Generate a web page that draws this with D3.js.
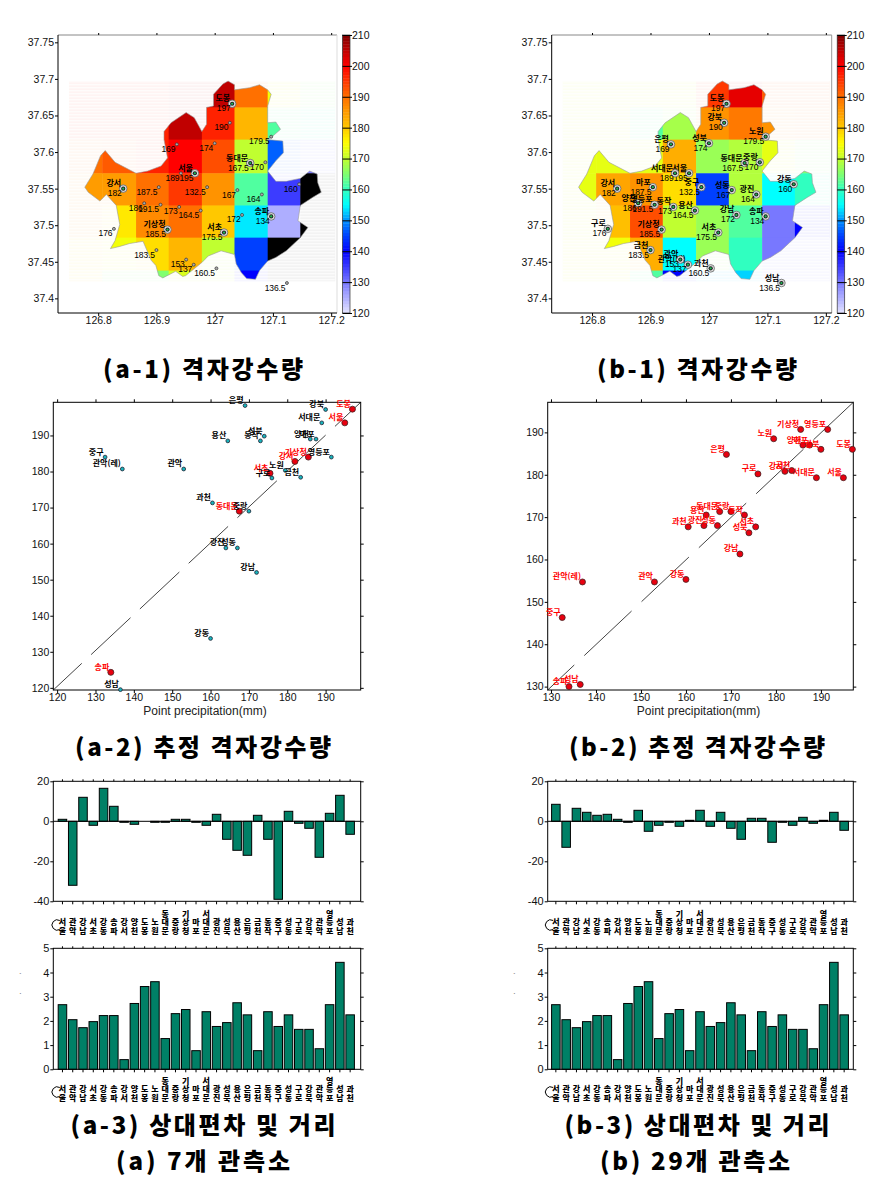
<!DOCTYPE html>
<html><head><meta charset="utf-8">
<script src="https://d3js.org/d3.v7.min.js"></script>
<style>html,body{margin:0;background:#fff}svg{display:block}</style>
</head><body><svg id="c" width="882" height="1187"></svg>
<script>
// ---------- data (bar order) ----------
const stationNames=["서울","관악(레)","강남","서초","강동","송파","강서","양천","도봉","노원","동대문","중랑","기상청","마포","서대문","광진","성북","용산","은평","금천","동작","중구","성동","구로","강북","관악","영등포","성남","과천"];
const pointPrecip=[195,137,172,175.5,160,134,182,186,197,179.5,167.5,170,185.5,187.5,189,164,174,164.5,169,183.5,173,132.5,167,176,190,153,191.5,136.5,160.5];
const estimatedA=[193.5,180.7,152,179.5,133.7,124.3,182.8,189,197.3,180.3,169,169,184,189,193.5,158.8,189.8,188.5,198.3,178.4,188.5,184,158.8,178.2,197.2,180.7,184,119.5,171.3];
const estimatedB=[179.3,154.7,161.3,167.7,155.3,130,180.8,187,186,188.5,171.3,171.3,190.7,187,179.3,168,166.3,170.5,184.8,181,170.5,146.3,168,180.2,186,154.7,190.7,130.5,167.7];
const deviationA=[1,-32,12,-2,16.5,7.5,-0.5,-1.5,0,-0.5,-0.5,1,1,-0.5,-2,3.5,-9,-14.5,-17,3,-9,-39,5,-1,-3.5,-18,4,13,-6.5];
const deviationB=[8.5,-13,6.5,4.5,3,3.5,1,-0.5,5.5,-5,-2,-0.5,-2.5,0.5,5.5,-2.5,4.5,-3.5,-9,1.5,1.5,-10.5,-0.5,-2,2,-1,0.5,4.5,-4.5];
const distances=[2.67,2.05,1.72,1.97,2.22,2.22,0.4,2.72,3.42,3.62,1.27,2.3,2.47,0.77,2.38,1.77,1.93,2.75,2.25,0.77,2.38,1.77,2.25,1.65,1.65,0.85,2.67,4.42,2.25];
const stationLon=[126.966,126.964,127.047,127.016,127.145,127.097,126.843,126.879,127.030,127.097,127.061,127.087,126.919,126.904,126.942,127.081,127.000,126.976,126.935,126.900,126.939,126.987,127.039,126.827,127.026,126.951,126.907,127.124,127.003];
const stationLat=[37.571,37.446,37.514,37.490,37.556,37.512,37.550,37.530,37.666,37.621,37.585,37.586,37.494,37.552,37.571,37.542,37.612,37.520,37.6105,37.466,37.525,37.552,37.548,37.495,37.640,37.453,37.528,37.421,37.441];
const selectedSeven=["서울","강서","기상청","서초","동대문","송파","도봉"];
const gridLon=[126.75,126.807,126.865,126.921,126.978,127.034,127.091,127.147,127.206];
const gridLat=[37.697,37.661,37.617,37.571,37.527,37.483,37.438,37.424];
const gridA=[[197,197,197,205,205,190,174,165],[197,197,197,205,197,182,162,160],[190,192,197,200,193,170,147,130],[185,185,190,195,186,162,135,110],[185,177,187,190,180,154,125,110],[178,174,178,182,170,145,110,110],[178,165,165,172,170,140,110,110]];
const gridB=[[172,172,172,172,195,202,192,192],[172,172,162,168,186,189,186,190],[173,173,173,183,167,169,173,165],[173,184,186,178,145,169,155,160],[173,181,193,170,167,162,130,140],[174,174,183,155,167,160,130,130],[174,174,162,140,153,153,130,130]];
const seoulOutline=[[126.998,37.679],[127.014,37.693],[127.023,37.697],[127.034,37.692],[127.034,37.685],[127.060,37.688],[127.077,37.692],[127.091,37.685],[127.097,37.679],[127.091,37.663],[127.091,37.640],[127.105,37.641],[127.113,37.631],[127.100,37.622],[127.091,37.617],[127.117,37.615],[127.118,37.599],[127.105,37.588],[127.091,37.574],[127.105,37.560],[127.123,37.560],[127.147,37.564],[127.163,37.574],[127.176,37.570],[127.177,37.558],[127.183,37.545],[127.168,37.538],[127.147,37.527],[127.143,37.506],[127.160,37.497],[127.147,37.483],[127.123,37.465],[127.105,37.456],[127.091,37.451],[127.077,37.438],[127.070,37.426],[127.055,37.427],[127.046,37.435],[127.037,37.447],[127.034,37.460],[127.011,37.465],[126.989,37.458],[126.978,37.449],[126.950,37.431],[126.945,37.430],[126.933,37.437],[126.911,37.428],[126.904,37.431],[126.899,37.445],[126.891,37.452],[126.877,37.478],[126.854,37.475],[126.837,37.471],[126.821,37.468],[126.829,37.479],[126.837,37.501],[126.831,37.527],[126.814,37.542],[126.803,37.533],[126.783,37.545],[126.777,37.552],[126.791,37.570],[126.804,37.595],[126.812,37.602],[126.829,37.586],[126.865,37.571],[126.885,37.574],[126.908,37.581],[126.919,37.592],[126.913,37.617],[126.913,37.628],[126.925,37.640],[126.951,37.654],[126.965,37.647],[126.978,37.628],[126.986,37.638],[126.986,37.661],[126.998,37.663]];
const colorStops=[120,130,140,145,150,155,160,165,170,175,180,190,200,210];
const colorValues=["#e4e4ff","#7878ff","#0000ff","#0040ff","#0090ff","#00ffff","#30ffc0","#80ff70","#c0ff30","#ffff00","#ffc800","#ff7000","#ff0000","#800000"];
const colorTicks=[120,130,140,150,160,170,180,190,200,210];
const lonTicks=[126.8,126.9,127,127.1,127.2];
const latTicks=[37.4,37.45,37.5,37.55,37.6,37.65,37.7,37.75];
const captionTexts=["(a-1) 격자강수량","(b-1) 격자강수량","(a-2) 추정 격자강수량","(b-2) 추정 격자강수량","(a-3) 상대편차 및 거리","(b-3) 상대편차 및 거리","(a) 7개 관측소","(b) 29개 관측소"];

// ---------- helpers ----------
const captionLayout=[[203,378,200],[697,378,200],[203,756,256],[697,756,256],[203,1134,265],[697,1134,265],[203,1170,174],[695,1170,190]];
const svg=d3.select("#c");
const SANS="'Liberation Sans',Arial,sans-serif", KR="'Noto Sans CJK KR',sans-serif";
const colorScale=d3.scaleLinear().domain(colorStops).range(colorValues).clamp(true);
const color=v=>v<120?"#000":colorScale(v);
const defs=svg.append("defs");
const stripes=defs.append("pattern").attr("id","stripes").attr("width",6).attr("height",3).attr("patternUnits","userSpaceOnUse");
stripes.append("rect").attr("width",6).attr("height",1.4).attr("fill","#fff").attr("fill-opacity",.7);

function styleAxis(g,fs){
  g.selectAll("text").attr("font-family",SANS).attr("font-size",fs).attr("fill","#111");
  g.selectAll("line").attr("stroke","#000");
  g.select(".domain").remove();
}

// ---------- maps ----------
function drawMap(id,left,right,grid,showAll){
  const x=d3.scaleLinear().domain([126.731,127.21]).range([left,right]);
  const y=d3.scaleLinear().domain([37.38,37.76]).range([313,35]);
  const g=svg.append("g");
  const path=d3.line().x(d=>x(d[0])).y(d=>y(d[1]));
  const clipId="clip"+id;
  defs.append("clipPath").attr("id",clipId).append("path").attr("d",path(seoulOutline)+"Z");
  const cells=[];
  grid.forEach((row,r)=>row.forEach((v,c)=>cells.push({r,c,v})));
  const drawCells=(sel)=>sel.selectAll("rect").data(cells).join("rect")
    .attr("x",d=>x(gridLon[d.c])).attr("y",d=>y(gridLat[d.r]))
    .attr("width",d=>x(gridLon[d.c+1])-x(gridLon[d.c])+.5)
    .attr("height",d=>y(gridLat[d.r+1])-y(gridLat[d.r])+.5)
    .attr("fill",d=>color(d.v));
  drawCells(g.append("g").attr("opacity",.045));
  g.append("rect").attr("x",x(gridLon[0])).attr("y",y(gridLat[0]))
    .attr("width",x(gridLon[8])-x(gridLon[0])).attr("height",y(gridLat[7])-y(gridLat[0])).attr("fill","url(#stripes)");
  drawCells(g.append("g").attr("clip-path",`url(#${clipId})`));
  g.append("path").attr("d",path(seoulOutline)+"Z").attr("fill","none").attr("stroke","#999").attr("stroke-width",.6);
  // frame
  g.append("line").attr("x1",left).attr("x2",right).attr("y1",35).attr("y2",35).attr("stroke","#888");
  g.append("line").attr("x1",right).attr("x2",right).attr("y1",35).attr("y2",313).attr("stroke",showAll?"#999":"#ddd");
  g.append("line").attr("x1",left).attr("x2",right).attr("y1",313).attr("y2",313).attr("stroke","#000");
  g.append("line").attr("x1",left).attr("x2",left).attr("y1",35).attr("y2",313).attr("stroke","#000");
  styleAxis(g.append("g").attr("transform","translate(0,313)").call(d3.axisBottom(x).tickValues(lonTicks).tickSize(3).tickPadding(1).tickFormat(d=>d)),10.5);
  styleAxis(g.append("g").attr("transform","translate(0,35)").call(d3.axisTop(x).tickValues(lonTicks).tickSize(2).tickFormat("")),10.5);
  styleAxis(g.append("g").attr("transform",`translate(${left},0)`).call(d3.axisLeft(y).tickValues(latTicks).tickSize(3).tickPadding(1).tickFormat(d=>d)),10.5);
  // stations
  stationNames.forEach((name,i)=>{
    const px=x(stationLon[i]),py=y(stationLat[i]);
    const ringed=showAll||selectedSeven.includes(name);
    if(ringed){
      g.append("circle").attr("cx",px).attr("cy",py).attr("r",3.8).attr("fill","#ddd").attr("stroke","#666").attr("stroke-width",.8);
      g.append("circle").attr("cx",px).attr("cy",py).attr("r",2.1).attr("fill","#222");
      g.append("circle").attr("cx",px).attr("cy",py).attr("r",1.1).attr("fill","#1db954");
    }else{
      g.append("circle").attr("cx",px).attr("cy",py).attr("r",1.5).attr("fill","#aaa").attr("stroke","#333").attr("stroke-width",.7);
    }
    if(ringed) g.append("text").attr("x",px-2).attr("y",py-2.5).attr("text-anchor","end").attr("font-family",KR).attr("font-size",8).attr("font-weight",700).attr("fill","#000").text(name);
    g.append("text").attr("x",px-1.5).attr("y",py+7.5).attr("text-anchor","end").attr("font-family",SANS).attr("font-size",8.5).attr("letter-spacing",-.1).attr("fill","#000").text(pointPrecip[i]);
  });
  // colour bar
  const bx=right+5.5,bw=7.5;
  const cy=d3.scaleLinear().domain([120,210]).range([313,35]);
  const bar=svg.append("g");
  bar.selectAll("rect").data(d3.range(120,210,1)).join("rect")
    .attr("x",bx).attr("width",bw).attr("y",d=>cy(d+1)).attr("height",d=>cy(d)-cy(d+1)+.4).attr("fill",d=>colorScale(d+.5));
  bar.append("rect").attr("x",bx).attr("y",35).attr("width",bw).attr("height",278).attr("fill","none").attr("stroke","#333").attr("stroke-width",.7);
  const ca=bar.append("g").attr("transform",`translate(${bx+bw},0)`).call(d3.axisRight(cy).tickValues(colorTicks).tickSize(2).tickPadding(0).tickFormat(d=>d));
  styleAxis(ca,10.5);
  ca.selectAll("line").attr("x1",-bw).attr("x2",2);
}
drawMap("a",58,337,gridA,false);
drawMap("b",551.7,831.7,gridB,true);

// ---------- scatter ----------
function drawScatter(left,right,dom,est,dash,offset,allRed){
  const x=d3.scaleLinear().domain(dom.x).range([left,right]);
  const y=d3.scaleLinear().domain(dom.y).range([690,402.3]);
  const g=svg.append("g");
  const t=d3.range(dom.ticks[0],191,10);
  g.append("line").attr("x1",left).attr("y1",690).attr("x2",right).attr("y2",402.3)
    .attr("stroke","#444").attr("stroke-width",1).attr("stroke-dasharray",dash).attr("stroke-dashoffset",offset);
  g.append("rect").attr("x",left).attr("y",402.3).attr("width",right-left).attr("height",287.7).attr("fill","none").attr("stroke","#000");
  styleAxis(g.append("g").attr("transform","translate(0,690)").call(d3.axisBottom(x).tickValues(t).tickSize(3).tickPadding(1)),10.5);
  styleAxis(g.append("g").attr("transform","translate(0,402.3)").call(d3.axisTop(x).tickValues(t).tickSize(3).tickFormat("")),10.5);
  styleAxis(g.append("g").attr("transform",`translate(${left},0)`).call(d3.axisLeft(y).tickValues(t).tickSize(3).tickPadding(1)),10.5);
  styleAxis(g.append("g").attr("transform",`translate(${right},0)`).call(d3.axisRight(y).tickValues(t).tickSize(3).tickFormat("")),10.5);
  stationNames.forEach((name,i)=>{
    const red=allRed||selectedSeven.includes(name);
    const px=x(pointPrecip[i]),py=y(est[i]);
    g.append("circle").attr("cx",px).attr("cy",py).attr("r",red?3:1.9)
      .attr("fill",red?"#e8000f":"#18b4bc").attr("stroke",red?"#422":"#223").attr("stroke-width",.8);
    g.append("text").attr("x",px-1.5).attr("y",py-2.5).attr("text-anchor","end")
      .attr("font-family",KR).attr("font-size",8).attr("font-weight",700)
      .attr("fill",red?"#f00":"#000").text(name);
  });
  g.append("text").attr("x",(left+right)/2-2).attr("y",714.5).attr("text-anchor","middle")
    .attr("font-family",SANS).attr("font-size",12).attr("fill","#222").text("Point precipitation(mm)");
}
drawScatter(53.3,360.7,{x:[119,199.15],y:[119.4,199.2],ticks:[120]},estimatedA,"54 12.8",15,false);
drawScatter(547.7,853.3,{x:[129.27,197.2],y:[129.2,197.1],ticks:[130]},estimatedB,"65 13.7",28.5,true);

// ---------- bars ----------
function drawBars(left,right,c0,c1,top,bottom,dom,values,ticks,zeroLine,labelY){
  const step=(c1-c0)/28;
  const x=d3.scaleBand().domain(stationNames).range([c0-step/2,c1+step/2]).paddingInner(.17);
  const y=d3.scaleLinear().domain(dom).range([bottom,top]);
  const g=svg.append("g");
  g.selectAll("rect").data(values).join("rect")
    .attr("x",(d,i)=>x(stationNames[i])).attr("width",x.bandwidth())
    .attr("y",d=>y(Math.max(d,0))).attr("height",d=>Math.abs(y(d)-y(0)))
    .attr("fill","#008066").attr("stroke","#000").attr("stroke-width",1);
  if(zeroLine) g.append("line").attr("x1",left).attr("x2",right).attr("y1",y(0)).attr("y2",y(0)).attr("stroke","#000");
  g.append("rect").attr("x",left).attr("y",top).attr("width",right-left).attr("height",bottom-top).attr("fill","none").attr("stroke","#000");
  const axB=d3.axisBottom(x).tickSize(3).tickFormat("");
  styleAxis(g.append("g").attr("transform",`translate(0,${bottom})`).call(axB),10.5);
  styleAxis(g.append("g").attr("transform",`translate(0,${top})`).call(d3.axisTop(x).tickSize(2).tickFormat("")),10.5);
  styleAxis(g.append("g").attr("transform",`translate(${left},0)`).call(d3.axisLeft(y).tickValues(ticks).tickSize(3).tickPadding(1).tickFormat(d=>d)),11);
  styleAxis(g.append("g").attr("transform",`translate(${right},0)`).call(d3.axisRight(y).tickValues(ticks).tickSize(3).tickFormat("")),11);
  stationNames.forEach(name=>{
    const chars=Array.from(name.replace("(레)",""));
    const cx=x(name)+x.bandwidth()/2;
    chars.forEach((ch,k)=>{
      g.append("text").attr("x",cx).attr("y",labelY-(chars.length-1-k)*8.6).attr("text-anchor","middle")
       .attr("font-family",KR).attr("font-size",8).attr("font-weight",900).attr("fill","#000").text(ch);
    });
  });
  // open ring in front of the first label
  g.append("path").attr("d",`M ${c0-3.5} ${labelY-13.5} A 5.2 5.2 0 1 0 ${c0-3.5} ${labelY-4.5}`).attr("fill","none").attr("stroke","#000");
}
const devTicks=[-40,-20,0,20], distTicks=[0,1,2,3,4,5];
drawBars(53.3,360.7,63.3,349.3,781.3,901.3,[-40,20],deviationA,devTicks,true,934);
drawBars(547.7,853.3,556.7,843.3,781.3,901.3,[-40,20],deviationB,devTicks,true,934);
drawBars(53.3,360.7,63.3,349.3,948.3,1069.3,[0,5],distances,distTicks,false,1101);
drawBars(547.7,853.3,556.7,843.3,948.3,1069.3,[0,5],distances,distTicks,false,1101);

// stray marks left of the lower panels
[[19,978],[513,978]].forEach(p=>{
  svg.append("text").attr("x",p[0]).attr("y",p[1]).attr("font-family",SANS).attr("font-size",8).attr("fill","#333").text("`");
  svg.append("text").attr("x",p[0]).attr("y",p[1]+20).attr("font-family",SANS).attr("font-size",8).attr("fill","#333").text("ˊ");
});

// ---------- captions ----------
svg.append("g").selectAll("text").data(captionTexts).join("text")
  .attr("x",(d,i)=>captionLayout[i][0]).attr("y",(d,i)=>captionLayout[i][1]).attr("text-anchor","middle")
  .attr("textLength",(d,i)=>captionLayout[i][2]).attr("lengthAdjust","spacing")
  .attr("font-family",KR).attr("font-size",24).attr("font-weight",900).attr("fill","#000").text(d=>d);
</script></body></html>
